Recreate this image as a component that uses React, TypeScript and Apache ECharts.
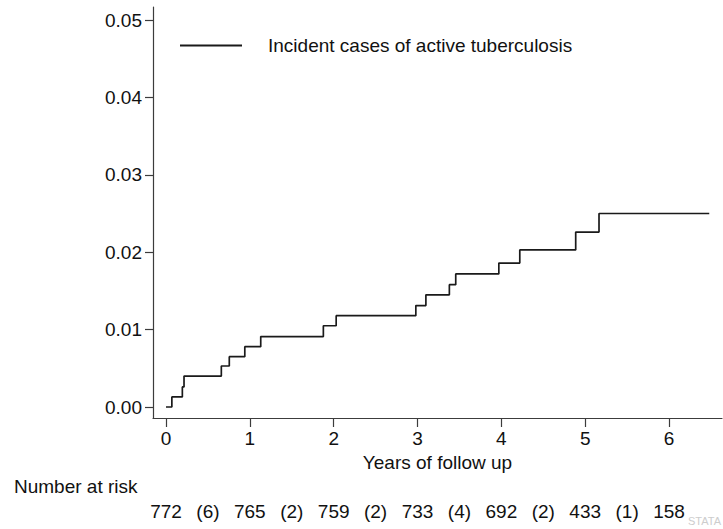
import React, { useEffect, useRef } from "react";
import * as echarts from "echarts";

// Kaplan-Meier style cumulative incidence (step changes at event times)
const eventTimes = [0, 0.07, 0.195, 0.215, 0.66, 0.755, 0.94, 1.13, 1.877, 2.03, 2.98, 3.1, 3.38, 3.456, 3.97, 4.22, 4.887, 5.165, 6.48];
const cumIncidence = [0, 0.0013, 0.0026, 0.004, 0.0053, 0.0065, 0.0078, 0.0091, 0.0105, 0.0118, 0.0131, 0.0145, 0.0158, 0.0172, 0.0186, 0.0203, 0.0226, 0.025, 0.025];

const xTicks = [0, 1, 2, 3, 4, 5, 6];
const yTicks = [0, 0.01, 0.02, 0.03, 0.04, 0.05];

// Number at risk table
const riskYears = [0, 1, 2, 3, 4, 5, 6];
const numberAtRisk = [772, 765, 759, 733, 692, 433, 158];
const eventMidpoints = [0.5, 1.5, 2.5, 3.5, 4.5, 5.5];
const eventsInInterval = [6, 2, 2, 4, 2, 1];

const seriesName = "Incident cases of active tuberculosis";
const xTitle = "Years of follow up";
const riskTitle = "Number at risk";

const FONT = "'Liberation Sans', Arial, Helvetica, sans-serif";

export default function App() {
  const ref = useRef<HTMLDivElement>(null);

  useEffect(() => {
    if (!ref.current) return;
    const chart = echarts.init(ref.current, undefined, { renderer: "svg" });

    const riskLabels: Record<string, string> = {};
    riskYears.forEach((t, i) => (riskLabels[t.toFixed(1)] = String(numberAtRisk[i])));
    eventMidpoints.forEach((t, i) => (riskLabels[t.toFixed(1)] = "(" + eventsInInterval[i] + ")"));
    const riskValues = [...riskYears, ...eventMidpoints].sort((a, b) => a - b);

    const xMin = -0.155;
    const xMax = 6.632;
    const axisColor = "#3c3c3c";

    chart.setOption({
      animation: false,
      backgroundColor: "#ffffff",
      textStyle: { fontFamily: FONT },
      grid: { left: 153, right: 1, top: 7, bottom: 111, containLabel: false },
      legend: {
        left: 175,
        top: 31,
        itemWidth: 62,
        itemHeight: 2,
        data: [{ name: seriesName, icon: "rect" }],
        itemStyle: { color: "#1a1a1a" },
        textStyle: { fontSize: 19, color: "#111", fontFamily: FONT, padding: [0, 0, 0, 21] },
      },
      xAxis: [
        {
          type: "value",
          min: xMin,
          max: xMax,
          splitLine: { show: false },
          axisLine: { show: true, onZero: false, lineStyle: { color: axisColor, width: 1.2 } },
          axisTick: { show: true, length: 9, customValues: xTicks, lineStyle: { color: axisColor, width: 1.2 } },
          axisLabel: {
            customValues: xTicks,
            margin: 11,
            fontSize: 19,
            color: "#111",
            fontFamily: FONT,
            formatter: (v: number) => String(Math.round(v)),
          },
          name: xTitle,
          nameLocation: "middle",
          nameGap: 31,
          nameTextStyle: { fontSize: 19, color: "#111", fontFamily: FONT, verticalAlign: "top" },
        },
        {
          type: "value",
          min: xMin,
          max: xMax,
          position: "bottom",
          offset: 84,
          splitLine: { show: false },
          axisLine: { show: false },
          axisTick: { show: false },
          axisLabel: {
            customValues: riskValues,
            margin: 0,
            fontSize: 19,
            color: "#111",
            fontFamily: FONT,
            formatter: (v: number) => riskLabels[v.toFixed(1)] ?? "",
          },
        },
      ],
      yAxis: {
        type: "value",
        min: -0.00142,
        max: 0.05168,
        splitLine: { show: false },
        axisLine: { show: true, onZero: false, lineStyle: { color: axisColor, width: 1.2 } },
        axisTick: { show: true, length: 8, customValues: yTicks, lineStyle: { color: axisColor, width: 1.2 } },
        axisLabel: {
          customValues: yTicks,
          margin: 11,
          fontSize: 19,
          color: "#111",
          fontFamily: FONT,
          formatter: (v: number) => v.toFixed(2),
        },
      },
      series: [
        {
          name: seriesName,
          type: "line",
          step: "end",
          xAxisIndex: 0,
          showSymbol: false,
          symbol: "none",
          lineStyle: { color: "#1a1a1a", width: 1.7 },
          itemStyle: { color: "#1a1a1a" },
          data: eventTimes.map((t, i) => [t, cumIncidence[i]]),
        },
      ],
      graphic: [
        {
          type: "text",
          left: 14,
          top: 477,
          style: { text: riskTitle, fontSize: 19, fill: "#111", fontFamily: FONT },
        },
        {
          type: "text",
          right: 2,
          top: 515,
          style: { text: "STATA", fontSize: 11, fill: "#cdcdcd", fontFamily: FONT, letterSpacing: 2 },
        },
      ],
    });

    return () => chart.dispose();
  }, []);

  return (
    <div
      ref={ref}
      style={{ position: "fixed", left: 0, top: 0, width: 723, height: 529, background: "#fff" }}
    />
  );
}
